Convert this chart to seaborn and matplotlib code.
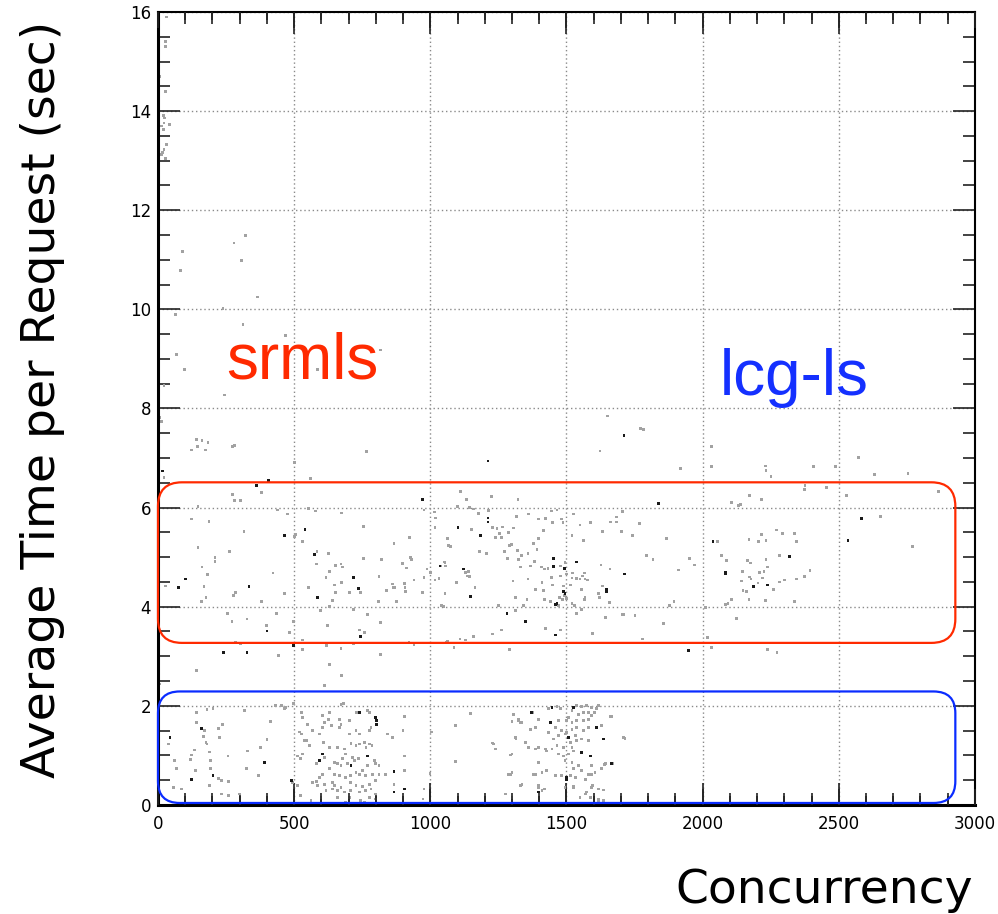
import pandas as pd
import seaborn as sns
import matplotlib.pyplot as plt
from matplotlib.patches import FancyBboxPatch
from matplotlib.ticker import MultipleLocator

# (concurrency, seconds), grouped by region
upper_pts = [(32, 15.9), (29, 15.4), (29, 15.3), (7, 14.7), (29, 14.4),
             (19, 13.91), (25, 13.86), (22, 13.76), (41, 13.73), (13, 13.7), (19, 13.63),
             (32, 13.33), (22, 13.23), (17, 13.16), (13, 13.12), (29, 13.04),
             (90, 11.16), (83, 10.79), (279, 11.34), (320, 11.49), (307, 10.99), (365, 10.25),
             (239, 10.01), (65, 9.9), (312, 9.70), (468, 9.48), (818, 9.18), (68, 9.09),
             (96, 8.78), (587, 8.78), (22, 8.47), (245, 8.27), (7, 7.82), (13, 7.73),
             (141, 7.38), (162, 7.36), (145, 7.24), (184, 7.32), (123, 7.16), (174, 7.16),
             (273, 7.24), (282, 7.26), (766, 7.13), (16, 6.74), (22, 6.61),
             (1212, 6.94), (1623, 7.14), (1711, 7.46), (1772, 7.59), (1784, 7.58), (1650, 7.85),
             (1920, 6.79), (2034, 7.24), (2034, 6.83), (2230, 6.84), (2233, 6.75), (2251, 6.63),
             (2408, 6.83), (2489, 6.83), (2571, 7.01), (2632, 6.67), (2754, 6.69), (501, 6.91),
             (559, 6.59)]

band_left = [(406, 6.55), (361, 6.44), (273, 6.27), (379, 6.30), (282, 6.14), (302, 6.15),
             (971, 6.17), (147, 6.02), (440, 5.95), (477, 5.87), (554, 5.98), (577, 5.93),
             (674, 5.89), (977, 5.95), (123, 5.77), (187, 5.72), (754, 5.62), (316, 5.52),
             (540, 5.56), (465, 5.44), (501, 5.42), (504, 5.46), (532, 5.32), (867, 5.28),
             (925, 5.40), (147, 5.20), (263, 5.11), (574, 5.05), (584, 5.11), (626, 5.07),
             (209, 4.99), (209, 4.92), (754, 4.97), (821, 4.96), (928, 5.00), (932, 4.96),
             (581, 4.86), (653, 4.83), (672, 4.86), (678, 4.80), (897, 4.87), (913, 4.78),
             (162, 4.80), (988, 4.76), (422, 4.68), (629, 4.71), (181, 4.65), (617, 4.59),
             (717, 4.59), (812, 4.61), (101, 4.56), (940, 4.54), (977, 4.59), (29, 4.42),
             (74, 4.38), (169, 4.41), (334, 4.40), (648, 4.44), (674, 4.49), (736, 4.37),
             (745, 4.29), (861, 4.46), (864, 4.38), (870, 4.39), (906, 4.47), (907, 4.38),
             (554, 4.39), (587, 4.18), (653, 4.29), (702, 4.29), (839, 4.33), (285, 4.29),
             (278, 4.23), (465, 4.26), (910, 4.30), (971, 4.28), (176, 4.18), (160, 4.10),
             (379, 4.10), (641, 4.13), (629, 4.00), (810, 4.11), (877, 4.11), (718, 3.95),
             (770, 3.85), (818, 3.68), (254, 3.87), (272, 3.70), (327, 3.75), (434, 3.87),
             (498, 3.70), (596, 3.92), (398, 3.62), (400, 3.51), (483, 3.48), (623, 3.62),
             (739, 3.53), (757, 3.48), (744, 3.40), (285, 3.28), (302, 3.25), (532, 3.33),
             (922, 3.29), (940, 3.23), (241, 3.08), (327, 3.08), (498, 3.21), (532, 3.13),
             (619, 3.21), (672, 3.16), (718, 3.25), (818, 3.04), (443, 3.02), (141, 2.71),
             (629, 2.84), (674, 2.61), (611, 2.41), (7, 2.44)]

band_mid = [(1014, 5.91), (1020, 5.79), (1017, 5.60), (1062, 5.38), (1001, 4.69), (1054, 4.89),
            (1036, 4.82), (1066, 5.23), (1017, 4.54), (1032, 4.57), (1054, 4.26), (1041, 4.03),
            (1050, 4.01), (1060, 3.29), (1111, 6.33), (1133, 6.17), (1225, 6.22), (1322, 6.16),
            (1837, 6.09), (1099, 6.02), (1144, 6.00), (1160, 5.97), (1215, 5.94), (1176, 5.88),
            (1212, 5.79), (1212, 5.71), (1316, 5.82), (1361, 5.87), (1398, 5.77), (1422, 5.78),
            (1444, 5.93), (1465, 5.95), (1450, 5.70), (1481, 5.77), (1487, 5.70), (1526, 5.87),
            (1550, 5.65), (1587, 5.70), (1662, 5.71), (1684, 5.81), (1684, 5.71), (1706, 5.92),
            (1767, 5.68), (1102, 5.60), (1150, 5.56), (1227, 5.60), (1245, 5.58), (1264, 5.61),
            (1306, 5.59), (1288, 5.50), (1184, 5.43), (1239, 5.40), (1261, 5.40), (1254, 5.48),
            (1075, 5.22), (1298, 5.26), (1292, 5.23), (1379, 5.28), (1398, 5.38), (1392, 5.15),
            (1416, 5.54), (1520, 5.44), (1562, 5.33), (1633, 5.51), (1703, 5.51), (1743, 5.43),
            (1867, 5.38), (1182, 5.11), (1205, 5.08), (1273, 5.11), (1321, 5.13), (1334, 5.04),
            (1359, 5.08), (1284, 4.97), (1325, 4.96), (1383, 4.91), (1794, 5.03), (1818, 4.95),
            (1953, 4.98), (1971, 4.84), (1910, 4.74), (1038, 4.82), (1056, 4.82), (1050, 4.90),
            (1123, 4.76), (1129, 4.69), (1141, 4.71), (1135, 4.62), (1145, 4.61), (1097, 4.49),
            (1331, 4.80), (1367, 4.82), (1408, 4.80), (1420, 4.76), (1432, 4.77), (1453, 4.97),
            (1453, 4.81), (1477, 4.82), (1495, 4.89), (1536, 4.90), (1493, 4.77), (1446, 4.59),
            (1477, 4.62), (1501, 4.66), (1523, 4.68), (1536, 4.57), (1520, 4.58), (1550, 4.56),
            (1560, 4.62), (1578, 4.54), (1565, 4.68), (1568, 4.56), (1304, 4.52), (1359, 4.56),
            (1410, 4.49), (1450, 4.44), (1489, 4.42), (1514, 4.44), (1556, 4.35), (1627, 4.84),
            (1660, 4.76), (1712, 4.66), (1633, 4.42), (1648, 4.34), (1648, 4.30), (1617, 4.27),
            (1621, 4.19), (1658, 4.09), (1706, 3.85), (1752, 3.83), (1644, 3.78), (1164, 4.39),
            (1148, 4.20), (1312, 4.18), (1386, 4.34), (1416, 4.32), (1489, 4.30), (1495, 4.27),
            (1493, 4.23), (1486, 4.15), (1475, 4.18), (1499, 4.16), (1420, 4.15), (1355, 4.15),
            (1343, 4.03), (1441, 4.10), (1459, 4.05), (1465, 4.06), (1471, 4.03), (1520, 4.07),
            (1530, 4.03), (1566, 4.15), (1568, 4.18), (1554, 3.95), (1536, 3.86), (1249, 4.03),
            (1282, 3.87), (1312, 3.92), (1349, 3.70), (1261, 3.53), (1227, 3.45),
            (1422, 3.56), (1459, 3.43), (1479, 3.53), (1596, 3.46), (1709, 3.85), (1779, 3.35),
            (1855, 3.66), (1877, 4.03), (1895, 4.11), (1062, 3.31), (1087, 3.18), (1109, 3.35),
            (1129, 3.33), (1160, 3.40), (1292, 3.13), (1947, 3.11)]

band_right = [(2105, 6.10), (2068, 5.03), (2087, 4.93), (2038, 5.31), (2056, 5.32), (2011, 3.98),
              (2105, 4.15), (2123, 3.77), (2083, 4.05), (2017, 3.38), (2032, 3.18),
              (2376, 6.45), (2373, 6.37), (2455, 6.41), (2528, 6.25), (2867, 6.32), (2172, 6.24),
              (2215, 6.17), (2132, 6.05), (2138, 6.07), (2583, 5.78), (2654, 5.82), (2270, 5.55),
              (2294, 5.48), (2337, 5.47), (2217, 5.46), (2170, 5.35), (2206, 5.31), (2233, 5.34),
              (2346, 5.31), (2534, 5.34), (2770, 5.21), (2282, 5.03), (2318, 5.01), (2233, 4.95),
              (2164, 4.93), (2175, 4.88), (2237, 4.80), (2225, 4.71), (2209, 4.69), (2145, 4.71),
              (2083, 4.66), (2172, 4.60), (2178, 4.56), (2221, 4.58), (2203, 4.48), (2188, 4.41),
              (2239, 4.44), (2142, 4.52), (2261, 4.35), (2282, 4.50), (2300, 4.54), (2346, 4.56),
              (2373, 4.61), (2394, 4.73), (2148, 4.33), (2160, 4.30), (2170, 4.15), (2231, 4.13),
              (2337, 4.10), (2093, 4.07), (2126, 3.77), (2239, 3.13), (2273, 3.08)]

low_left = [(44, 1.36), (38, 1.23), (56, 0.36), (87, 0.32), (62, 0.89), (68, 0.73), (141, 1.87),
            (141, 1.67), (160, 1.55), (172, 1.50), (166, 1.38), (176, 1.26), (180, 1.23),
            (135, 1.11), (123, 1.01), (120, 0.91), (139, 0.69), (123, 0.52), (190, 1.07),
            (194, 0.89), (193, 0.73), (202, 0.59), (221, 0.54), (233, 0.49), (190, 0.39),
            (233, 0.22), (260, 0.19), (300, 0.22), (180, 1.92), (202, 1.94), (237, 1.63),
            (221, 1.55), (227, 1.36), (260, 0.47), (330, 1.09), (325, 0.74), (257, 0.99),
            (376, 1.16), (400, 1.32), (412, 1.68), (392, 0.86), (370, 0.60), (318, 1.90),
            (432, 2.00), (465, 1.94), (1005, 1.47), (999, 0.63),
            (453, 2.00), (468, 1.96), (499, 2.04), (681, 2.04), (672, 2.02), (526, 1.87),
            (532, 1.77), (520, 1.47), (526, 1.43), (538, 1.30), (544, 1.30), (556, 1.20),
            (532, 1.03), (522, 0.93), (513, 0.99), (489, 0.50), (495, 0.46), (513, 0.39),
            (522, 0.19), (562, 0.09), (550, 1.63), (568, 1.50), (593, 1.43), (605, 1.80),
            (611, 1.67), (629, 1.87), (627, 1.73), (636, 1.60), (603, 1.57), (607, 1.26),
            (629, 1.16), (666, 1.73), (672, 1.63), (666, 1.57), (702, 1.70), (729, 1.87),
            (739, 1.87), (770, 1.90), (776, 1.87), (800, 1.77), (802, 1.70), (802, 1.63),
            (782, 1.57), (778, 1.51), (702, 1.43), (727, 1.50), (739, 1.43), (757, 1.26),
            (776, 1.23), (786, 1.20), (843, 1.43), (861, 1.36), (904, 1.78), (900, 1.51),
            (904, 0.99), (904, 0.69), (867, 0.68), (867, 0.42), (867, 0.26), (904, 0.32),
            (977, 0.32), (973, 0.12), (660, 1.16), (684, 1.13), (709, 1.24), (727, 1.20),
            (739, 1.23), (764, 1.16), (690, 1.03), (715, 0.96), (737, 0.93), (770, 0.99),
            (678, 0.93), (696, 0.83), (709, 0.79), (721, 0.89), (648, 0.86), (660, 0.83),
            (672, 0.79), (629, 0.73), (605, 1.03), (593, 0.89), (581, 0.83), (611, 0.96),
            (794, 0.89), (800, 0.83), (812, 0.79), (769, 0.79), (751, 0.69), (739, 0.62),
            (727, 0.66), (708, 0.59), (763, 0.59), (788, 0.62), (812, 0.62), (836, 0.62),
            (800, 0.49), (776, 0.42), (751, 0.37), (727, 0.39), (708, 0.46), (690, 0.56),
            (666, 0.59), (647, 0.62), (641, 0.46), (647, 0.39), (641, 0.32), (660, 0.29),
            (672, 0.36), (684, 0.26), (708, 0.29), (739, 0.26), (763, 0.29), (782, 0.32),
            (800, 0.22), (605, 0.62), (593, 0.56), (581, 0.48), (568, 0.46), (587, 0.39),
            (611, 0.42), (617, 0.29), (599, 0.15), (660, 0.15), (702, 0.15), (745, 0.09),
            (690, 0.05), (757, 0.05), (776, 0.15), (800, 0.12)]

low_mid = [(1434, 1.94), (1447, 1.97), (1465, 1.98), (1477, 1.94), (1520, 1.90), (1526, 1.97),
           (1538, 2.00), (1556, 1.98), (1575, 2.00), (1593, 1.97), (1611, 1.94), (1617, 2.00),
           (1602, 1.87), (1581, 1.87), (1563, 1.87), (1544, 1.83), (1508, 1.77), (1501, 1.70),
           (1520, 1.67), (1538, 1.70), (1563, 1.70), (1581, 1.73), (1593, 1.80), (1611, 1.57),
           (1471, 1.70), (1440, 1.67), (1459, 1.57), (1434, 1.46), (1483, 1.50), (1501, 1.46),
           (1520, 1.53), (1538, 1.57), (1563, 1.50), (1581, 1.57), (1532, 1.40), (1508, 1.36),
           (1495, 1.43), (1471, 1.40), (1453, 1.33), (1514, 1.26), (1538, 1.30), (1556, 1.33),
           (1581, 1.30), (1520, 1.16), (1489, 1.16), (1465, 1.20), (1447, 1.13), (1428, 1.09),
           (1471, 1.03), (1489, 0.99), (1508, 1.03), (1526, 1.09), (1556, 1.06), (1587, 0.99),
           (1495, 0.89), (1520, 0.86), (1544, 0.79), (1526, 0.73), (1514, 0.59), (1532, 0.56),
           (1556, 0.69), (1569, 0.52), (1581, 0.62), (1593, 0.79), (1605, 0.66), (1630, 0.73),
           (1642, 0.83), (1636, 1.33), (1666, 0.83), (1709, 1.36), (1660, 1.78), (1373, 1.87),
           (1324, 1.73), (1306, 1.83), (1337, 1.67), (1367, 1.53), (1385, 1.57), (1312, 1.36),
           (1349, 1.26), (1361, 1.16), (1385, 1.13), (1397, 1.16), (1422, 1.13), (1233, 1.23),
           (1239, 1.13), (1300, 1.03), (1397, 0.86), (1428, 0.69), (1385, 0.62), (1410, 0.66),
           (1300, 0.66), (1294, 0.62), (1337, 0.42), (1379, 0.62), (1459, 0.59), (1483, 0.59),
           (1495, 0.36), (1526, 0.36), (1593, 0.36), (1575, 0.26), (1617, 0.32), (1636, 0.30),
           (1569, 0.22), (1587, 0.15), (1617, 0.09), (1397, 0.39), (1410, 0.29), (1397, 0.26),
           (1276, 0.22), (1300, 0.15), (1500, 0.52), (1500, 0.56),
           (1093, 1.61), (1093, 0.87), (1148, 1.85), (1227, 1.25), (1294, 1.01), (1300, 1.68),
           (1325, 1.70), (1331, 1.67), (1315, 1.34), (1288, 0.62), (1331, 0.40), (1398, 0.35),
           (1420, 0.32), (1374, 1.87), (1398, 1.73), (1715, 1.34), (1666, 1.79), (1629, 1.60),
           (1639, 0.81), (1669, 0.83), (1636, 0.09), (1617, 0.12), (1550, 0.15), (1568, 0.22),
           (1596, 0.40), (1592, 0.62), (1526, 0.38), (1532, 0.56)]

# points that show up solid black
dark_pts = [(16, 6.74), (406, 6.55), (361, 6.44), (465, 5.44), (540, 5.56), (574, 5.05),
            (717, 4.59), (736, 4.37), (587, 4.18), (101, 4.56), (74, 4.38), (334, 4.40),
            (241, 3.08), (327, 3.08), (498, 3.21), (400, 3.51), (744, 3.40), (971, 6.17),
            (1036, 4.82), (1212, 6.94), (1711, 7.46), (1102, 5.60), (1184, 5.43), (1212, 5.79),
            (1212, 5.71), (1837, 6.09), (1712, 4.66), (1648, 4.34), (1648, 4.30), (1453, 4.97),
            (1453, 4.81), (1493, 4.77), (1459, 4.05), (1465, 4.06), (1282, 3.87), (1349, 3.70),
            (1459, 3.43), (1123, 4.76), (1947, 3.11), (2084, 4.69), (1148, 4.20), (1536, 4.90),
            (1489, 4.30), (1495, 4.27), (2038, 5.31), (2318, 5.01), (2083, 4.66), (2583, 5.78),
            (2534, 5.34), (2188, 4.41), (2239, 4.44), (800, 1.77), (802, 1.70), (802, 1.63),
            (739, 1.87), (770, 0.99), (709, 0.79), (867, 0.68), (867, 0.26), (904, 0.32),
            (605, 1.03), (489, 0.50), (593, 0.89), (160, 1.55), (392, 0.86), (202, 0.59),
            (123, 0.52), (44, 1.36), (1447, 1.97), (1526, 1.97), (1611, 1.57), (1373, 1.87),
            (1636, 1.33), (1556, 1.06), (1508, 1.36), (1440, 1.67), (1587, 0.99), (1666, 0.83),
            (1397, 0.26), (1500, 0.52), (1500, 0.56)]

grey = upper_pts + band_left + band_mid + band_right + low_left + low_mid
df = pd.DataFrame(grey + dark_pts, columns=['concurrency', 'time'])
df['shade'] = ['grey'] * len(grey) + ['dark'] * len(dark_pts)

sns.set_style('white')
plt.rcParams['font.family'] = ['DejaVu Sans']
# ROOT look: ticks inside, on all four sides
plt.rcParams.update({
    'xtick.bottom': True, 'xtick.top': True, 'ytick.left': True, 'ytick.right': True,
    'xtick.direction': 'in', 'ytick.direction': 'in',
    'xtick.major.size': 16, 'ytick.major.size': 16,
    'xtick.minor.size': 8.5, 'ytick.minor.size': 8.5,
    'xtick.major.width': 1.2, 'ytick.major.width': 1.2,
    'xtick.minor.width': 1.2, 'ytick.minor.width': 1.2,
    'xtick.color': '#222222', 'ytick.color': '#222222',
    'xtick.labelcolor': 'black', 'ytick.labelcolor': 'black',
    'xtick.labelsize': 12, 'ytick.labelsize': 12,
    'xtick.major.pad': 7, 'ytick.major.pad': 5,
    'xtick.minor.visible': True, 'ytick.minor.visible': True,
})

fig = plt.figure(figsize=(9.98, 9.14), dpi=100)
ax = fig.add_axes([0.1583, 0.1193, 0.8186, 0.8676])

sns.scatterplot(data=df, x='concurrency', y='time', hue='shade',
                palette={'grey': '#a2a2a2', 'dark': '#1a1a1a'},
                marker='s', s=4, linewidth=0, legend=False, ax=ax, zorder=2)

ax.set_xlim(0, 3000)
ax.set_ylim(0, 16)
ax.xaxis.set_major_locator(MultipleLocator(500))
ax.xaxis.set_minor_locator(MultipleLocator(100))
ax.yaxis.set_major_locator(MultipleLocator(2))
ax.yaxis.set_minor_locator(MultipleLocator(0.5))

ax.grid(True, which='major', color='#8a8a8a', linestyle=(0, (1, 2)), linewidth=1)
ax.set_axisbelow(True)
ax.tick_params(which='both', bottom=True, top=True, left=True, right=True, direction='in')

# the x tick marks kept vanishing in the full figure, so draw them as short lines
# at the locator positions (x in data, y in axes fraction)
xt = ax.get_xaxis_transform()
maj = [v for v in ax.xaxis.get_majorticklocs() if 0 <= v <= 3000]
mnr = [v for v in ax.xaxis.get_minorticklocs() if 0 <= v <= 3000]
for locs, frac in [(maj, 16 / 793), (mnr, 8.5 / 793)]:
    ax.vlines(locs, 0, frac, transform=xt, color='#222222', lw=1.2, clip_on=False, zorder=2.6)
    ax.vlines(locs, 1 - frac, 1, transform=xt, color='#222222', lw=1.2, clip_on=False, zorder=2.6)

for side in ['left', 'bottom']:
    ax.spines[side].set_linewidth(2.2)
for side in ['top', 'right']:
    ax.spines[side].set_linewidth(1.5)
for s in ax.spines.values():
    s.set_color('black')

ax.set_xlabel('Concurrency', fontsize=34, loc='right', color='black')
ax.xaxis.set_label_coords(0.9976, -0.079)
ax.set_ylabel('Average Time per Request (sec)', fontsize=34, color='black')
ax.yaxis.set_label_coords(-0.114, 0.512)

# rounded boxes; radius given in x units, aspect squeezes it to look round
asp = (16 / 793) / (3000 / 817)
ax.add_patch(FancyBboxPatch((0, 3.27), 2928, 3.24,
                            boxstyle='round,pad=0,rounding_size=88', mutation_aspect=asp,
                            fill=False, ec='#ff2a00', lw=1.6, clip_on=False, zorder=3))
ax.add_patch(FancyBboxPatch((0, 0.04), 2928, 2.25,
                            boxstyle='round,pad=0,rounding_size=80', mutation_aspect=asp,
                            fill=False, ec='#0a2cff', lw=1.6, clip_on=False, zorder=3))

ax.text(251, 8.60, 'srmls', color='#ff2a00', fontsize=46, family='Liberation Sans', va='baseline')
ax.text(2064, 8.27, 'lcg-ls', color='#1430ff', fontsize=46, family='Liberation Sans', va='baseline')

ax.set_xlim(0, 3000)
ax.set_ylim(0, 16)
fig.savefig('out.png', dpi=100)
